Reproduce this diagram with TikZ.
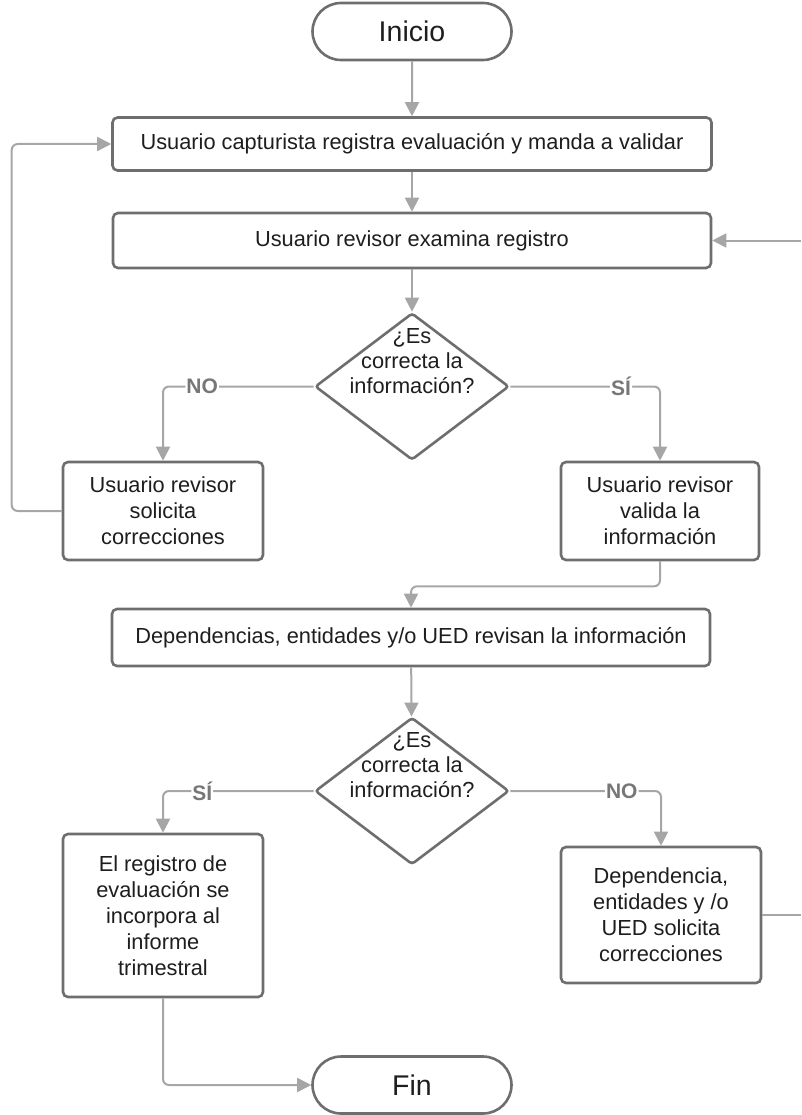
\documentclass[tikz,border=0pt]{standalone}
\usepackage{fontspec}
\setmainfont{Liberation Sans}
\usetikzlibrary{shapes.geometric,shapes.misc,arrows.meta}
\definecolor{borderGray}{HTML}{6E6E6E}
\definecolor{lineGray}{HTML}{A6A6A6}
\definecolor{inkGray}{HTML}{1E1E1E}
\definecolor{tagGray}{HTML}{777777}

\begin{document}
\begin{tikzpicture}[x=1pt,y=-1pt,
	proc/.style={draw=borderGray,line width=2.6pt,rounded corners=5pt,fill=white,text=inkGray,
		align=center,font=\fontsize{21.8}{26}\selectfont,inner sep=0pt},
	term/.style={draw=borderGray,line width=2.6pt,rounded rectangle,fill=white,text=inkGray,
		font=\fontsize{28.5}{32}\selectfont,minimum width=199pt,minimum height=57pt,inner sep=0pt},
	decide/.style={draw=borderGray,line width=2.6pt,diamond,rounded corners=3pt,fill=white,
		minimum width=194pt,minimum height=147pt,inner sep=0pt},
	ask/.style={text=inkGray,align=center,font=\fontsize{21.8}{25}\selectfont,inner sep=0pt},
	conn/.style={draw=lineGray,line width=2pt,rounded corners=6pt,-{Triangle[length=14pt,width=14pt]}},
	answer/.style={fill=white,text=tagGray,font=\bfseries\fontsize{21}{24}\selectfont,inner sep=1pt}]
	\useasboundingbox (0,0) rectangle (801,1115);
	% nodes
	\node[term] (inicio) at (412,31.5) {Inicio};
	\node[proc,minimum width=599pt,minimum height=53pt] (captura) at (412,144) {Usuario capturista registra evaluación y manda a validar};
	\node[proc,minimum width=598pt,minimum height=55pt] (examina) at (412,240.5) {Usuario revisor examina registro};
	\node[decide] (pregunta1) at (412,386.5) {};
	\node[ask] (texto1) at (412,361) {¿Es\\correcta la\\información?};
	\node[proc,minimum width=200pt,minimum height=98pt] (solicita) at (163,511) {Usuario revisor\\solicita\\correcciones};
	\node[proc,minimum width=198pt,minimum height=98pt] (valida) at (660,511) {Usuario revisor\\valida la\\información};
	\node[proc,minimum width=598pt,minimum height=57pt] (revisan) at (411,637.5) {Dependencias, entidades y/o UED revisan la información};
	\node[decide] (pregunta2) at (412,791) {};
	\node[ask] (texto2) at (412,765) {¿Es\\correcta la\\información?};
	\node[proc,minimum width=200pt,minimum height=163pt] (incorpora) at (163,915.5) {El registro de\\evaluación se\\incorpora al\\informe\\trimestral};
	\node[proc,minimum width=200pt,minimum height=136pt] (corrige) at (661,915) {Dependencia,\\entidades y /o\\UED solicita\\correcciones};
	\node[term] (fin) at (412,1085) {Fin};
	\coordinate (entrada) at (801,240.5);
	\coordinate (salida) at (801,915);
	% connectors
	\draw[conn] (inicio) -- (captura);
	\draw[conn] (captura) -- (examina);
	\draw[conn] (examina) -- (pregunta1);
	\draw[conn] (pregunta1.west) -| node[answer,pos=0.37] {NO} (solicita);
	\draw[conn] (pregunta1.east) -| node[answer,pos=0.37] {SÍ} (valida);
	\draw[conn] (solicita.west) -- ++(-50,0) |- (captura.west);
	\draw[conn] (entrada) -- (examina.east);
	\draw[conn] (valida.south) -- ++(0,25) -| (revisan.north);
	\draw[conn] (revisan) -- (pregunta2);
	\draw[conn] (pregunta2.west) -| node[answer,pos=0.37] {SÍ} (incorpora);
	\draw[conn] (pregunta2.east) -| node[answer,pos=0.37] {NO} (corrige);
	\draw[conn,-] (corrige.east) -- (salida);
	\draw[conn] (incorpora.south) |- (fin.west);
\end{tikzpicture}
\end{document}
